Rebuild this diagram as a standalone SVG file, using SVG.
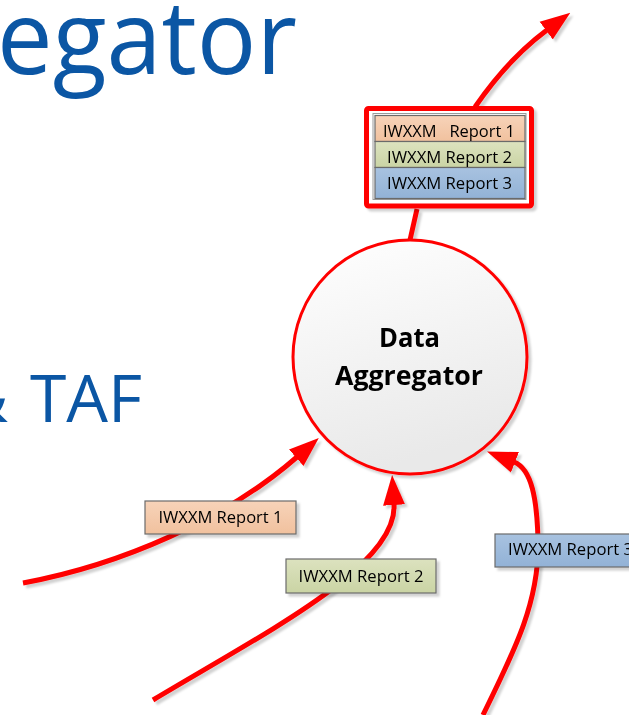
<svg xmlns="http://www.w3.org/2000/svg" width="629" height="715" viewBox="0 0 629 715">
<style>
.title{font-family:"Open Sans","Liberation Sans",sans-serif;fill:#0B56A4}
.lbl{font-family:"Open Sans","Liberation Sans",sans-serif;font-size:17px;fill:#000;text-anchor:middle}
.ctr{font-family:"Open Sans","Liberation Sans",sans-serif;font-weight:bold;font-size:26.5px;fill:#000;text-anchor:middle}
.conn{fill:none;stroke:#FF0000;stroke-width:5;stroke-linecap:butt}
.tag{stroke:#6B6B6B;stroke-width:1.2}
</style>
<defs>
<marker id="ah" viewBox="0 -2.3 6 4.6" refX="0.2" refY="0" markerWidth="6" markerHeight="4.6" markerUnits="strokeWidth" orient="auto">
<path d="M0,-2.2 L6,0 L0,2.2 z" fill="#FF0000"/>
</marker>
<filter id="sh" x="-10%" y="-10%" width="130%" height="130%">
<feDropShadow dx="3" dy="3" stdDeviation="1.2" flood-color="#000" flood-opacity="0.18"/>
</filter>
<linearGradient id="gc" x1="0" y1="0" x2="0.3" y2="1">
<stop offset="0" stop-color="#FFFFFF"/><stop offset="1" stop-color="#E9E9E9"/>
</linearGradient>
<linearGradient id="g1" x1="0" y1="0" x2="0" y2="1"><stop offset="0" stop-color="#F7D3B9"/><stop offset="1" stop-color="#F1C19E"/></linearGradient>
<linearGradient id="g2" x1="0" y1="0" x2="0" y2="1"><stop offset="0" stop-color="#DCE2BF"/><stop offset="1" stop-color="#CAD4A4"/></linearGradient>
<linearGradient id="g3" x1="0" y1="0" x2="0" y2="1"><stop offset="0" stop-color="#A8C2E0"/><stop offset="1" stop-color="#92B2D6"/></linearGradient>
</defs>
<rect width="629" height="715" fill="#FFFFFF"/>
<text class="title" x="-3" y="74" font-size="103" textLength="300" lengthAdjust="spacingAndGlyphs">egator</text>
<text class="title" x="-40" y="422" font-size="66">&amp; <tspan x="30">TAF</tspan></text>
<g id="connectors" filter="url(#sh)">
<path class="conn" d="M475,107 C495,78 520,50 547,30" marker-end="url(#ah)"/>
<path class="conn" d="M417,209 L410,240"/>
<path class="conn" d="M23,583 C120,565 225,520 297,457" marker-end="url(#ah)"/>
<path class="conn" d="M153,700 C270,630 398,565 394,504" marker-end="url(#ah)"/>
<path class="conn" d="M483,715 C515,650 540,600 538,540 C537,500 532,469 514,462" marker-end="url(#ah)"/>
</g>
<g id="aggregator" filter="url(#sh)">
<circle cx="410" cy="357" r="117" fill="url(#gc)" stroke="#FF0000" stroke-width="3"/>
<text class="ctr" x="409.5" y="347" textLength="61" lengthAdjust="spacingAndGlyphs">Data</text>
<text class="ctr" x="409" y="385" textLength="148" lengthAdjust="spacingAndGlyphs">Aggregator</text>
</g>
<g id="output-bundle" filter="url(#sh)">
<rect x="366.5" y="108.5" width="165" height="97.5" rx="2" fill="#FFFFFF" stroke="#FF0000" stroke-width="5"/>
<rect x="373" y="113.5" width="153" height="86" fill="#FFFFFF" stroke="#9A9A9A" stroke-width="1"/>
<rect class="tag" x="375" y="115.5" width="150" height="26" fill="url(#g1)" stroke-width="0.8"/>
<rect class="tag" x="375" y="141.5" width="150" height="26" fill="url(#g2)" stroke-width="0.8"/>
<rect class="tag" x="375" y="167.5" width="150" height="31" fill="url(#g3)" stroke-width="0.8"/>
<text class="lbl" x="449" y="136.5" textLength="132" lengthAdjust="spacingAndGlyphs" xml:space="preserve">IWXXM   Report 1</text>
<text class="lbl" x="449.5" y="162.5" textLength="125" lengthAdjust="spacingAndGlyphs">IWXXM Report 2</text>
<text class="lbl" x="449.5" y="189" textLength="125" lengthAdjust="spacingAndGlyphs">IWXXM Report 3</text>
</g>
<g id="report1" filter="url(#sh)">
<rect class="tag" x="145" y="501" width="151" height="33" fill="url(#g1)"/>
<text class="lbl" x="220.5" y="523" textLength="124" lengthAdjust="spacingAndGlyphs">IWXXM Report 1</text>
</g>
<g id="report2" filter="url(#sh)">
<rect class="tag" x="286" y="559" width="150" height="34" fill="url(#g2)"/>
<text class="lbl" x="361" y="582" textLength="125" lengthAdjust="spacingAndGlyphs">IWXXM Report 2</text>
</g>
<g id="report3" filter="url(#sh)">
<rect class="tag" x="495" y="534" width="151" height="33" fill="url(#g3)"/>
<text class="lbl" x="570.5" y="555" textLength="125" lengthAdjust="spacingAndGlyphs">IWXXM Report 3</text>
</g>
</svg>
